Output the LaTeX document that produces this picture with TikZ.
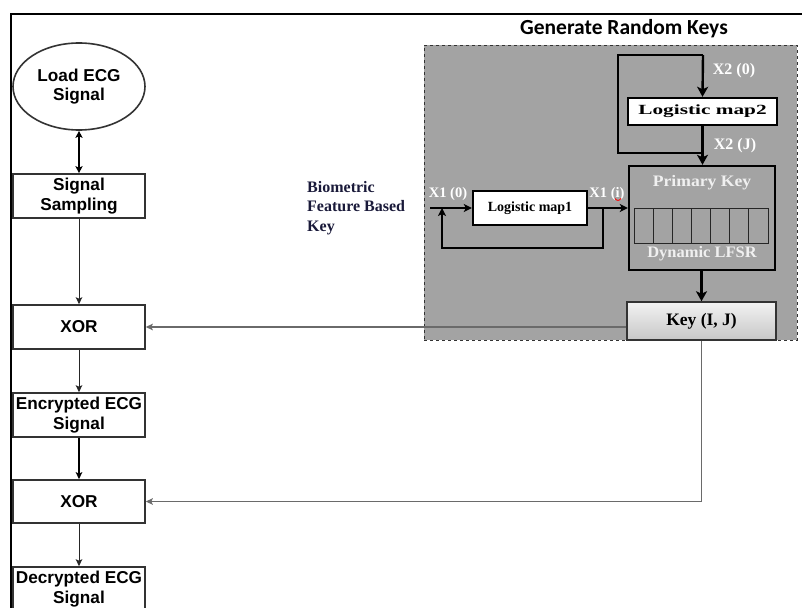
\documentclass[tikz,border=0pt]{standalone}
\usepackage{fontspec}
\usepackage{graphicx}
\setmainfont{Liberation Serif}
\newfontfamily\arialfont{Liberation Sans}
\newfontfamily\calfont{Carlito}
\usetikzlibrary{arrows.meta,shapes.geometric}
\definecolor{panelgray}{HTML}{A3A3A3}
\definecolor{boxline}{HTML}{333333}
\definecolor{linkgray}{HTML}{6A6A6A}
\definecolor{navytext}{HTML}{1A1A3A}
\begin{document}
\begin{tikzpicture}[x=1pt,y=-1pt,
  flowbox/.style={draw=boxline, line width=1.6pt, minimum width=132pt, minimum height=44pt,
    inner sep=0pt, align=center, font=\arialfont\bfseries\fontsize{17.2}{19.5}\selectfont},
  thintip/.style={-{Stealth[length=7pt,width=6.5pt,inset=1.5pt]}},
  flowarrow/.style={thintip, line width=0.9pt, draw=black!85},
  mapbox/.style={draw=black, line width=2.4pt, fill=white, inner sep=0pt,
    font=\bfseries\fontsize{14}{16}\selectfont},
  bigtip/.style={-{Stealth[length=10pt,width=11pt,inset=2.5pt]}},
  loopline/.style={draw=black, line width=2.4pt},
  whitelabel/.style={text=white, font=\bfseries\fontsize{14.5}{16}\selectfont, inner sep=0pt},
  link/.style={draw=linkgray, line width=1.4pt}
]
\clip (0,0) rectangle (802,607);
\fill[white] (0,0) rectangle (802,607);

% outer frame (top and left edges)
\draw[black, line width=2pt] (802,14) -- (11,14) -- (11,610);

% key generation panel
\node[draw=black!80, dashed, line width=0.8pt, fill=panelgray, minimum width=373pt,
      minimum height=295pt, inner sep=0pt] (panel) at (610.5,192.5) {};
\node[font=\calfont\bfseries\fontsize{21.5}{23}\selectfont, inner sep=0pt] (title) at (624,29) {Generate Random Keys};

% left-hand processing chain
\node[ellipse, draw=boxline, line width=1.6pt, minimum width=132pt, minimum height=87pt,
      inner sep=0pt, align=center, font=\arialfont\bfseries\fontsize{17.2}{19.5}\selectfont]
      (load) at (79,86.5) {Load ECG\\Signal};
\node[flowbox] (samp) at (79,196) {Signal\\Sampling};
\node[flowbox] (xor1) at (79,327) {XOR};
\node[flowbox] (enc)  at (79,415) {Encrypted ECG\\Signal};
\node[flowbox, minimum height=43pt] (xor2) at (79,501.5) {XOR};
\node[flowbox] (dec)  at (79,589) {Decrypted ECG\\Signal};

\draw[{Stealth[length=7pt,width=7pt,inset=1.5pt]}-{Stealth[length=7pt,width=7pt,inset=1.5pt]}, line width=1.4pt] (load) -- (samp);
\draw[flowarrow] (samp) -- (xor1);
\draw[flowarrow] (xor1) -- (enc);
\draw[thintip, line width=1.6pt] (enc) -- (xor2);
\draw[flowarrow] (xor2) -- (dec);

% logistic map 2 with its feedback loop
\node[mapbox, minimum width=149pt, minimum height=27pt] (map2) at (702.5,111.5)
      {\scalebox{1.52}[1]{Logistic map2}};
\coordinate (l2top) at (703,55);
\coordinate (l2tl) at (618,55);
\coordinate (l2bl) at (618,153);
\coordinate (l2br) at (703,153);

% primary key register
\node[draw=black, line width=2.4pt, minimum width=146pt, minimum height=104pt, inner sep=0pt]
      (prim) at (702,218) {};
\node[text=white!94!black, font=\bfseries\fontsize{16}{18}\selectfont, inner sep=0pt]
      (primtxt) at (702,183) {\scalebox{1.1}[1]{Primary Key}};
\node[text=white!94!black, font=\bfseries\fontsize{16}{18}\selectfont, inner sep=0pt]
      (lfsrtxt) at (702,254) {\scalebox{1.03}[1]{Dynamic LFSR}};
\foreach \i in {0,...,6} {
  \draw[black!85, line width=0.9pt] (634+\i*19.14,208) rectangle (634+\i*19.14+19.14,243);
}

\draw[loopline] (l2br) -- (l2bl) -- (l2tl) -- (l2top);
\draw[loopline, bigtip] (l2top) -- (map2.north);
\draw[loopline, bigtip] (map2.south) -- (prim.north -| map2.south);
\node[whitelabel, font=\bfseries\fontsize{16}{18}\selectfont] (x20) at (734,71) {X2 (0)};
\node[whitelabel, font=\bfseries\fontsize{16}{18}\selectfont] (x2j) at (735,146) {X2 (J)};

% logistic map 1 with its feedback loop
\node[mapbox, minimum width=114pt, minimum height=34pt] (map1) at (530,208) {Logistic map1};
\coordinate (in1) at (430,208);
\coordinate (fbr) at (603,208);
\coordinate (fbrb) at (603,248);
\coordinate (fblb) at (442,248);
\coordinate (fbl) at (442,208);
\draw[loopline, -{Stealth[length=8pt,width=8pt,inset=2pt]}] (in1) -- (map1.west);
\draw[loopline, -{Stealth[length=8pt,width=8pt,inset=2pt]}] (map1.east) -- (prim.west |- map1.east);
\draw[loopline, -{Stealth[length=8pt,width=8pt,inset=2pt]}] (fbr) -- (fbrb) -- (fblb) -- (fbl);
\node[whitelabel] (x10) at (448,194) {X1 (0)};
\node[whitelabel] (x1i) at (607,194) {X1 (i)};
\draw[red, line width=0.9pt] (615,198.5) .. controls (616.5,201) and (619.5,201) .. (621,198.5);

% biometric input label
\node[anchor=west, align=left, text=navytext, inner sep=0pt,
      font=\bfseries\fontsize{16}{19.5}\selectfont] (bio) at (307,208)
      {Biometric\\Feature Based\\Key};

% generated key
\node[draw=boxline, line width=1.5pt, top color=white!95!black, bottom color=black!22,
      minimum width=149pt, minimum height=38pt, inner sep=0pt,
      font=\bfseries\fontsize{17.5}{19}\selectfont] (key) at (701.5,321) {Key (I, J)};
\draw[bigtip, line width=3pt] (prim.south -| key.north) -- (key.north);

% key distribution to the XOR stages
\draw[link, thintip] (key.west |- xor1.east) -- (xor1.east);
\draw[link, thintip] (key.south) -- (key.south |- xor2.east) -- (xor2.east);
\end{tikzpicture}
\end{document}
